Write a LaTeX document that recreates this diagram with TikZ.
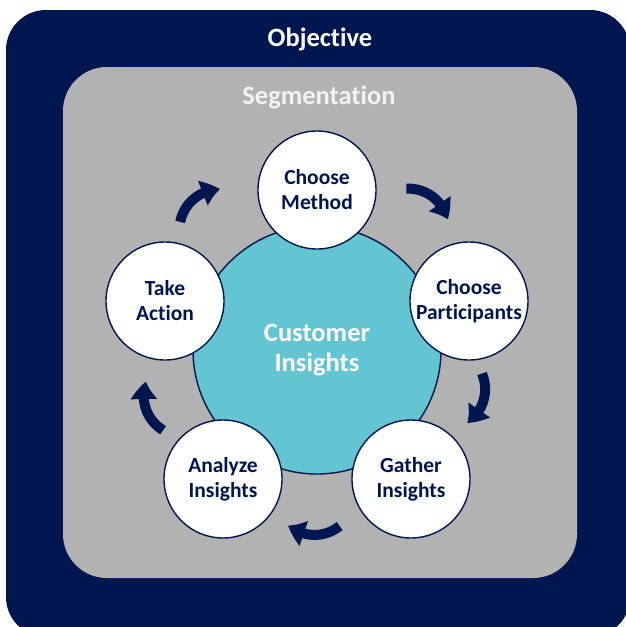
\documentclass[tikz,border=0pt]{standalone}
\usepackage{fontspec}
\setmainfont[Ligatures=NoCommon]{Carlito}
\usetikzlibrary{arrows.meta,bending,calc}
\definecolor{navy}{HTML}{001650}
\definecolor{greybox}{HTML}{B2B2B2}
\definecolor{tealc}{HTML}{63C5D2}
\definecolor{segtext}{HTML}{F2F2F2}
\tikzset{
  stage/.style={circle, minimum size=118pt, inner sep=0pt, fill=white, draw=navy, line width=1.4pt,
    text=navy, font=\bfseries\fontsize{21.5}{25}\selectfont, align=center},
  core/.style={circle, minimum size=248pt, inner sep=0pt, fill=tealc, draw=navy, line width=1.4pt,
    text=white, font=\bfseries\fontsize{26.5}{30}\selectfont, align=center},
  cyc/.style={draw=navy, line width=10pt, -{Triangle[width=25pt,length=18pt,bend]}},
  title/.style={font=\bfseries\fontsize{26.5}{30}\selectfont}
}
\begin{document}
\begin{tikzpicture}[x=1pt,y=-1pt]
\useasboundingbox (0,0) rectangle (626,627);
\fill[navy, rounded corners=40pt] (6,10) rectangle (630,637);
\fill[greybox, rounded corners=44pt] (63,67) rectangle (577,578);
\node[title, text=white] (obj) at (320,39) {Objective};
\node[title, text=segtext] (seg) at (319,97) {Segmentation};
\node[core] (ci) at (317,350) {Customer\\Insights};
\node[stage] (m) at (317,190) {Choose\\Method};
\node[stage] (p) at (469,301) {Choose\\Participants};
\node[stage] (g) at (411,479) {Gather\\Insights};
\node[stage] (a) at (223,479) {Analyze\\Insights};
\node[stage] (t) at (165,301) {Take\\Action};
\draw[cyc] ($(ci.center)+(-129:155)+(-169:40)$) arc[start angle=-169, end angle=-89, radius=40];
\draw[cyc] ($(ci.center)+(-53:152)+(-93:40)$) arc[start angle=-93, end angle=-13, radius=40];
\draw[cyc] ($(ci.center)+(17:134)+(-23:40)$) arc[start angle=-23, end angle=57, radius=40];
\draw[cyc] ($(ci.center)+(91:145)+(51:40)$) arc[start angle=51, end angle=131, radius=40];
\draw[cyc] ($(ci.center)+(161:141)+(121:40)$) arc[start angle=121, end angle=201, radius=40];
\end{tikzpicture}
\end{document}
